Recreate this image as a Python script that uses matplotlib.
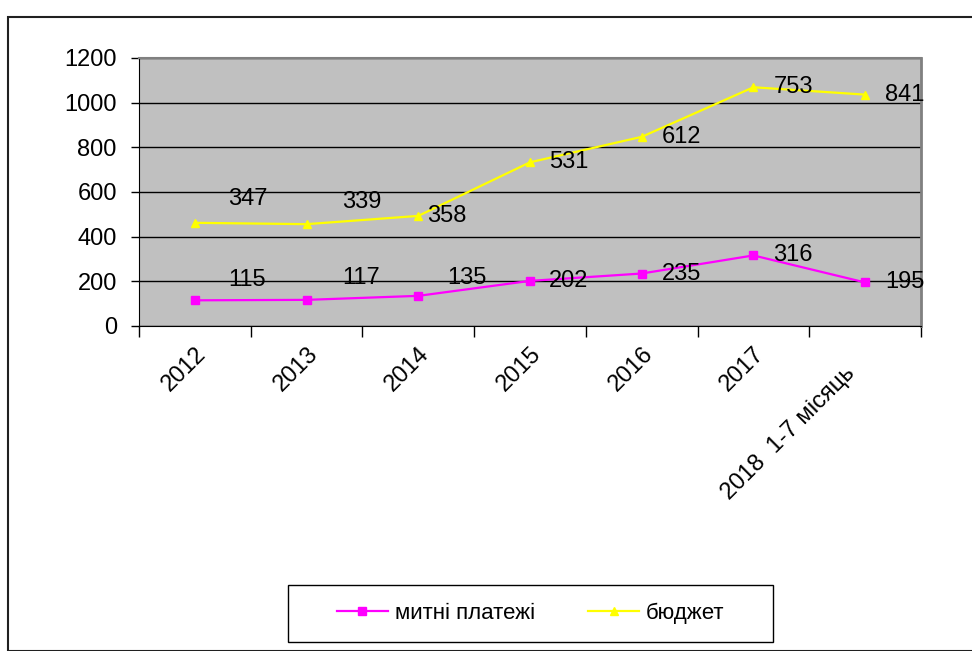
import matplotlib.pyplot as plt
from matplotlib.patches import Rectangle
from matplotlib.transforms import ScaledTranslation
import numpy as np

plt.rcParams['font.family'] = ['Liberation Sans', 'DejaVu Sans']

# дані
categories = ['2012', '2013', '2014', '2015', '2016', '2017', '2018  1-7 місяць']
customs = [115, 117, 135, 202, 235, 316, 195]   # митні платежі
budget = [347, 339, 358, 531, 612, 753, 841]    # бюджет
series_names = ['митні платежі', 'бюджет']

# зсуви підписів (пікселі)
customs_offs = [(33, 20), (36, 22), (29, 18), (19, 0), (20, 0), (20, 0), (20, 0)]
budget_offs = [(33, 24), (36, 22), (9, 0), (19, 0), (20, 0), (20, 0), (20, 0)]

customs = np.array(customs)
budget_top = customs + np.array(budget)  # лінійна діаграма з накопиченням
x = np.arange(len(categories)) + 0.5

fig = plt.figure(figsize=(9.72, 6.51), dpi=100)
fig.patches.append(Rectangle((8 / 972, 0), 2, (651 - 17) / 651, transform=fig.transFigure,
                             fill=False, edgecolor='#202020', linewidth=1.5))

ax = fig.add_axes([139 / 972, 1 - 326 / 651, (921 - 139) / 972, (326 - 58) / 651])
ax.set_facecolor('#C0C0C0')

ax.plot(x, customs, color='#FF00FF', marker='s', markersize=6, linewidth=1.6, label=series_names[0])
ax.plot(x, budget_top, color='#FFFF00', marker='^', markersize=6, linewidth=1.6, label=series_names[1])

for i in range(len(x)):
    ax.annotate(str(customs[i]), (x[i], customs[i]), xytext=(customs_offs[i][0] * 0.72, customs_offs[i][1] * 0.72),
                textcoords='offset points', ha='left', va='center', fontsize=17, color='black')
    ax.annotate(str(budget[i]), (x[i], budget_top[i]), xytext=(budget_offs[i][0] * 0.72, budget_offs[i][1] * 0.72),
                textcoords='offset points', ha='left', va='center', fontsize=17, color='black')

ax.set_xlim(0, len(categories))
ax.set_ylim(0, 1200)
ax.set_yticks(np.arange(0, 1201, 200))
ax.yaxis.grid(True, color='black', linewidth=1)
ax.set_axisbelow(True)
ax.tick_params(axis='y', labelsize=17, length=6, width=1, direction='out', pad=10)

ax.set_xticks(np.arange(0, len(categories) + 1))
ax.set_xticklabels([])
ax.set_xticks(x, minor=True)
ax.set_xticklabels(categories, minor=True, rotation=45, ha='right', va='top', rotation_mode='anchor', fontsize=17)
ax.tick_params(axis='x', which='major', length=8, width=1, direction='out')
ax.tick_params(axis='x', which='minor', length=0, pad=12)
last = ax.get_xticklabels(minor=True)[-1]
last.set_transform(last.get_transform() + ScaledTranslation(-0.21, -0.2, fig.dpi_scale_trans))

ax.spines['left'].set_color('black')
ax.spines['bottom'].set_color('black')
ax.spines['top'].set_color('#808080')
ax.spines['right'].set_color('#808080')
ax.spines['top'].set_linewidth(1.5)
ax.spines['right'].set_linewidth(2)

# легенда
fig.patches.append(Rectangle((288 / 972, 1 - 642 / 651), (773 - 288) / 972, (642 - 585) / 651,
                             transform=fig.transFigure, fill=False, edgecolor='black', linewidth=1))
fig.legend(loc='center', bbox_to_anchor=((288 + 773) / 2 / 972, 1 - 613.5 / 651), ncol=2,
           fontsize=16, frameon=False, handlelength=2.3, columnspacing=2.4, handletextpad=0.3)

fig.savefig('out.png', dpi=100)
